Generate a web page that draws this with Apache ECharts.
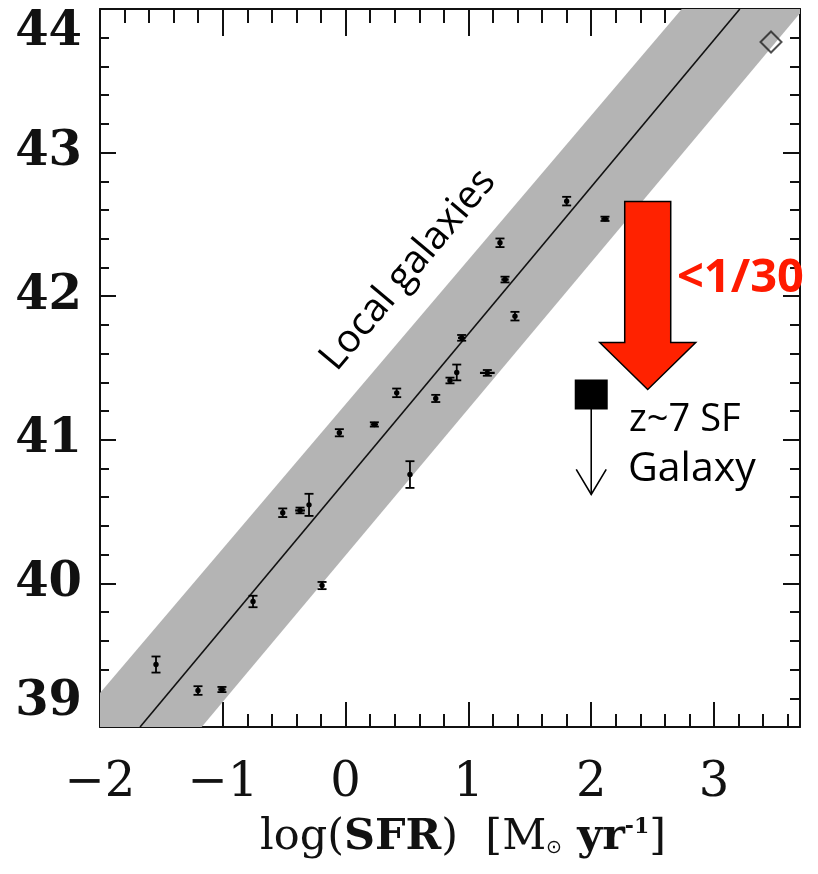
<!DOCTYPE html>
<html>
<head>
<meta charset="utf-8">
<script src="https://cdn.jsdelivr.net/npm/echarts@6/dist/echarts.min.js"></script>
<style>
  html, body { margin: 0; padding: 0; background: #ffffff; }
  #chart { width: 818px; height: 874px; }
</style>
</head>
<body>
<div id="chart"></div>
<script>
// Local galaxies: log SFR against log L(H-alpha), with 1-sigma errors
const sfrLog = [-1.544, -1.202, -1.007, -0.754, -0.192, -0.512, -0.371, -0.298, -0.051, 0.234, 0.416,
                0.734, 0.524, 0.945, 0.905, 0.850, 1.154, 1.257, 1.298, 1.379, 1.800, 2.112];
const lumLog = [39.435, 39.254, 39.261, 39.874, 39.985, 40.492, 40.508, 40.547, 41.049, 41.107, 41.327,
                41.288, 40.758, 41.710, 41.469, 41.413, 41.466, 42.372, 42.116, 41.861, 42.662, 42.539];
const lumErr = [0.056, 0.030, 0.018, 0.040, 0.025, 0.030, 0.020, 0.077, 0.025, 0.015, 0.030,
                0.025, 0.093, 0.020, 0.055, 0.020, 0.020, 0.030, 0.020, 0.030, 0.030, 0.015];
const sfrErr = [0, 0, 0.03, 0, 0, 0, 0.04, 0, 0, 0.03, 0,
                0, 0, 0.03, 0, 0, 0.06, 0, 0.03, 0, 0, 0.03];

// Mean relation (end points on the frame) and its scatter band
const relationSfr = [-1.674, 3.21];
const relationLum = [39.0, 44.0];
const bandSfr = [-2.0, -2.0, 2.737, 3.7, 3.7, -1.172];
const bandLum = [39.0, 39.237, 44.0, 44.0, 43.97, 39.0];

// High-SFR object (open diamond)
const diamondSfr = [3.464];
const diamondLum = [43.77];

// z~7 star-forming galaxy: measured position and upper limit
const z7Sfr = [2.0];
const z7Lum = [41.315];
const z7Limit = [40.62];

// Deficit arrow ("<1/30")
const deficitSfr = [2.46];
const deficitFrom = [42.66];
const deficitTo = [41.35];

// Axis ranges and tick labels
const xRange = [-2, 3.7];
const yRange = [39, 44];
const xTickLabels = ['−2', '−1', '0', '1', '2', '3'];
const yTickLabels = ['39', '40', '41', '42', '43', '44'];

const INK = '#111111';
const serif = '"DejaVu Serif", "Liberation Serif", serif';
const sans = '"Open Sans", "Noto Sans", sans-serif';

function xAxisDef(position, interval, tickLen, showLine, showLabel) {
  return {
    type: 'value', gridIndex: 0, position: position,
    min: xRange[0], max: xRange[1], interval: interval,
    axisLine: { show: showLine, onZero: false, lineStyle: { color: INK, width: 2 } },
    axisTick: { show: true, inside: true, length: tickLen, lineStyle: { color: INK, width: 2 } },
    axisLabel: showLabel ? {
      show: true, margin: 33, showMaxLabel: false,
      fontFamily: serif, fontSize: 48, color: INK,
      formatter: function (v) {
        const k = Math.round(v - xRange[0]);
        return xTickLabels[k] !== undefined ? xTickLabels[k] : '';
      }
    } : { show: false },
    splitLine: { show: false }
  };
}

function yAxisDef(position, interval, tickLen, showLine, showLabel) {
  return {
    type: 'value', gridIndex: 0, position: position,
    min: yRange[0], max: yRange[1], interval: interval,
    axisLine: { show: showLine, onZero: false, lineStyle: { color: INK, width: 2 } },
    axisTick: { show: true, inside: true, length: tickLen, lineStyle: { color: INK, width: 2 } },
    axisLabel: showLabel ? {
      show: true, margin: 18,
      fontFamily: serif, fontSize: 48, fontWeight: 'bold', color: INK,
      verticalAlignMaxLabel: 'top', verticalAlignMinLabel: 'bottom',
      formatter: function (v) {
        const k = Math.round(v - yRange[0]);
        return yTickLabels[k] !== undefined ? yTickLabels[k] : '';
      }
    } : { show: false },
    splitLine: { show: false }
  };
}

const chart = echarts.init(document.getElementById('chart'), null, { renderer: 'canvas' });

const option = {
  animation: false,
  backgroundColor: '#ffffff',
  grid: { left: 100, right: 18, top: 9, bottom: 147, containLabel: false },
  xAxis: [
    xAxisDef('bottom', 1, 25, true, true),
    xAxisDef('bottom', 0.2, 13, false, false),
    xAxisDef('top', 1, 27, true, false),
    xAxisDef('top', 0.2, 14, false, false)
  ],
  yAxis: [
    yAxisDef('left', 1, 16, true, true),
    yAxisDef('left', 0.2, 9, false, false),
    yAxisDef('right', 1, 17, true, false),
    yAxisDef('right', 0.2, 10, false, false)
  ],
  series: [
    {
      // scatter band around the mean relation
      type: 'custom', name: 'band', xAxisIndex: 0, yAxisIndex: 0, silent: true, z: 1,
      data: [[bandSfr[0], bandLum[0]]],
      renderItem: function (params, api) {
        const pts = bandSfr.map(function (x, i) { return api.coord([x, bandLum[i]]); });
        return { type: 'polygon', shape: { points: pts }, style: { fill: '#b4b4b4' } };
      }
    },
    {
      type: 'line', name: 'relation', xAxisIndex: 0, yAxisIndex: 0, z: 2,
      symbol: 'none', silent: true,
      data: relationSfr.map(function (x, i) { return [x, relationLum[i]]; }),
      lineStyle: { color: INK, width: 1.6 }
    },
    {
      // local galaxies with error bars
      type: 'custom', name: 'Local galaxies', xAxisIndex: 0, yAxisIndex: 0, z: 3,
      data: sfrLog.map(function (x, i) { return [x, lumLog[i], lumErr[i], sfrErr[i]]; }),
      renderItem: function (params, api) {
        const x = api.value(0), y = api.value(1), ey = api.value(2), ex = api.value(3);
        const c = api.coord([x, y]);
        const t = api.coord([x, y + ey]);
        const b = api.coord([x, y - ey]);
        const cap = 4.5;
        const ls = { stroke: '#000', lineWidth: 1.8 };
        const kids = [
          { type: 'line', shape: { x1: c[0], y1: t[1], x2: c[0], y2: b[1] }, style: ls },
          { type: 'line', shape: { x1: c[0] - cap, y1: t[1], x2: c[0] + cap, y2: t[1] }, style: ls },
          { type: 'line', shape: { x1: c[0] - cap, y1: b[1], x2: c[0] + cap, y2: b[1] }, style: ls },
          { type: 'circle', shape: { cx: c[0], cy: c[1], r: 2.7 }, style: { fill: '#000' } }
        ];
        if (ex > 0) {
          const l = api.coord([x - ex, y]);
          const r = api.coord([x + ex, y]);
          kids.push({ type: 'line', shape: { x1: l[0], y1: c[1], x2: r[0], y2: c[1] }, style: { stroke: '#000', lineWidth: 2.2 } });
        }
        return { type: 'group', children: kids };
      }
    },
    {
      type: 'scatter', name: 'diamond', xAxisIndex: 0, yAxisIndex: 0, z: 3,
      symbol: 'diamond', symbolSize: [21, 21],
      data: diamondSfr.map(function (x, i) { return [x, diamondLum[i]]; }),
      itemStyle: { color: 'rgba(0,0,0,0)', borderColor: '#222', borderWidth: 2 }
    },
    {
      // z~7 galaxy with downward upper-limit arrow
      type: 'custom', name: 'z7', xAxisIndex: 0, yAxisIndex: 0, z: 4,
      data: z7Sfr.map(function (x, i) { return [x, z7Lum[i], z7Limit[i]]; }),
      renderItem: function (params, api) {
        const c = api.coord([api.value(0), api.value(1)]);
        const lim = api.coord([api.value(0), api.value(2)]);
        const w = 33, h = 30;
        const ls = { stroke: '#000', lineWidth: 1.6, fill: null };
        return {
          type: 'group', children: [
            { type: 'rect', shape: { x: c[0] - w / 2, y: c[1] - h / 2, width: w, height: h }, style: { fill: '#000' } },
            { type: 'line', shape: { x1: c[0], y1: c[1], x2: lim[0], y2: lim[1] }, style: ls },
            { type: 'polyline', shape: { points: [[lim[0] - 15, lim[1] - 25], [lim[0], lim[1]], [lim[0] + 15, lim[1] - 25]] }, style: ls }
          ]
        };
      }
    },
    {
      // deficit block arrow
      type: 'custom', name: 'deficit', xAxisIndex: 0, yAxisIndex: 0, z: 5, clip: false,
      data: deficitSfr.map(function (x, i) { return [x, deficitFrom[i], deficitTo[i]]; }),
      renderItem: function (params, api) {
        const top = api.coord([api.value(0), api.value(1)]);
        const tip = api.coord([api.value(0), api.value(2)]);
        const x = top[0], sw = 23, hw = 48, hl = 47;
        const hy = tip[1] - hl;
        return {
          type: 'polygon',
          shape: { points: [[x - sw, top[1]], [x + sw, top[1]], [x + sw, hy], [x + hw, hy], [x, tip[1]], [x - hw, hy], [x - sw, hy]] },
          style: { fill: '#ff2200', stroke: '#000', lineWidth: 1.5 }
        };
      }
    }
  ],
  graphic: [
    {
      type: 'text', x: 408, y: 270, rotation: 50 * Math.PI / 180, z: 10,
      style: { text: 'Local galaxies', fontFamily: sans, fontSize: 39, fill: '#000', align: 'center', verticalAlign: 'middle' }
    },
    {
      type: 'text', x: 677, y: 279, z: 10,
      style: { text: '<1/30', fontFamily: sans, fontSize: 47, fontWeight: 'bold', fill: '#ff1a00', align: 'left', verticalAlign: 'middle' }
    },
    {
      type: 'text', x: 629, y: 420, z: 10,
      style: { text: 'z~7 SF', fontFamily: sans, fontSize: 38, fill: '#000', align: 'left', verticalAlign: 'middle' }
    },
    {
      type: 'text', x: 628, y: 469, z: 10,
      style: { text: 'Galaxy', fontFamily: sans, fontSize: 41, fill: '#000', align: 'left', verticalAlign: 'middle' }
    },
    {
      type: 'text', x: 463, y: 838, z: 10,
      style: {
        text: '{r|log(}{b|SFR}{r|)  [M}{s|⊙}{b| yr}{p|-1}{r|]}',
        align: 'center', verticalAlign: 'middle',
        rich: {
          r: { fontFamily: serif, fontSize: 43, fill: INK, verticalAlign: 'bottom' },
          b: { fontFamily: serif, fontSize: 43, fontWeight: 'bold', fill: INK, verticalAlign: 'bottom' },
          s: { fontFamily: sans, fontSize: 19, fill: INK, verticalAlign: 'bottom', padding: [0, 0, 2, 0] },
          p: { fontFamily: serif, fontSize: 22, fontWeight: 'bold', fill: INK, verticalAlign: 'top' }
        }
      }
    }
  ]
};

chart.setOption(option);
</script>
</body>
</html>
